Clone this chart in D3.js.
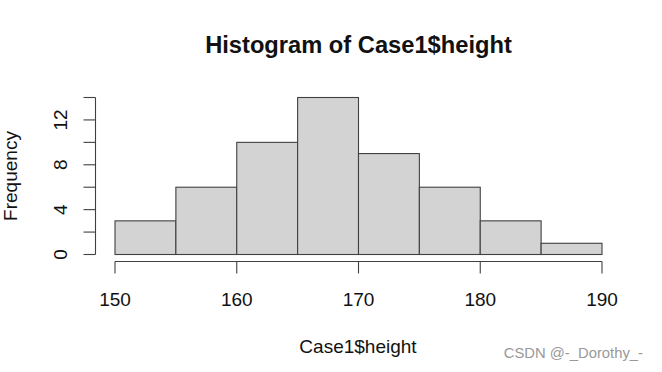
<!DOCTYPE html>
<html><head><meta charset="utf-8">
<script src="https://cdn.jsdelivr.net/npm/d3@7"></script>
<style>body{margin:0;background:#fff;}svg{display:block;font-family:Arial,"Liberation Sans",sans-serif;}</style>
</head><body>
<svg id="c" width="662" height="372"></svg>
<script>
const binStarts = [150,155,160,165,170,175,180,185];
const binWidth = 5;
const counts = [3,6,10,14,9,6,3,1];
const xTicks = [150,160,170,180,190];
const yTicks = [0,2,4,6,8,10,12,14];
const yLabels = [0,4,8,12];

const svg = d3.select("#c");
const x = d3.scaleLinear().domain([150,190]).range([115,602]);
const y = d3.scaleLinear().domain([0,14]).range([254.5,97.5]);

svg.append("g").selectAll("rect").data(counts).join("rect")
  .attr("x",(d,i)=>x(binStarts[i]))
  .attr("y",d=>y(d))
  .attr("width",(d,i)=>x(binStarts[i]+binWidth)-x(binStarts[i]))
  .attr("height",d=>y(0)-y(d))
  .attr("fill","#d3d3d3").attr("stroke","#404040").attr("stroke-width",1.1);

// x axis
const xa = svg.append("g").attr("transform","translate(0,261.5)");
xa.append("line").attr("x1",x(150)).attr("x2",x(190)).attr("stroke","#404040").attr("stroke-width",1.1);
xa.selectAll("line.t").data(xTicks).join("line").attr("class","t")
  .attr("x1",d=>x(d)).attr("x2",d=>x(d)).attr("y1",0).attr("y2",12).attr("stroke","#404040").attr("stroke-width",1.1);
xa.selectAll("text").data(xTicks).join("text")
  .attr("x",d=>x(d)).attr("y",44).attr("text-anchor","middle")
  .attr("font-size",19).attr("fill","#111").text(d=>d);

// y axis
const ya = svg.append("g").attr("transform","translate(95.5,0)");
ya.append("line").attr("y1",y(0)).attr("y2",y(14)).attr("stroke","#404040").attr("stroke-width",1.1);
ya.selectAll("line.t").data(yTicks).join("line").attr("class","t")
  .attr("y1",d=>y(d)).attr("y2",d=>y(d)).attr("x1",0).attr("x2",-12).attr("stroke","#404040").attr("stroke-width",1.1);
ya.selectAll("text").data(yLabels).join("text")
  .attr("transform",d=>`translate(-29,${y(d)}) rotate(-90)`)
  .attr("text-anchor","middle").attr("font-size",19).attr("fill","#111").text(d=>d);

svg.append("text").attr("x",358.5).attr("y",52.5).attr("text-anchor","middle")
  .attr("font-size",23.7).attr("font-weight","bold").attr("fill","#111").text("Histogram of Case1$height");
svg.append("text").attr("x",358).attr("y",353).attr("text-anchor","middle")
  .attr("font-size",19).attr("fill","#111").text("Case1$height");
svg.append("text").attr("transform","translate(17,176) rotate(-90)").attr("text-anchor","middle")
  .attr("font-size",19).attr("fill","#111").text("Frequency");
svg.append("text").attr("x",643).attr("y",358).attr("text-anchor","end")
  .attr("font-size",14.8).attr("fill","#999").text("CSDN @-_Dorothy_-");
</script>
</body></html>
